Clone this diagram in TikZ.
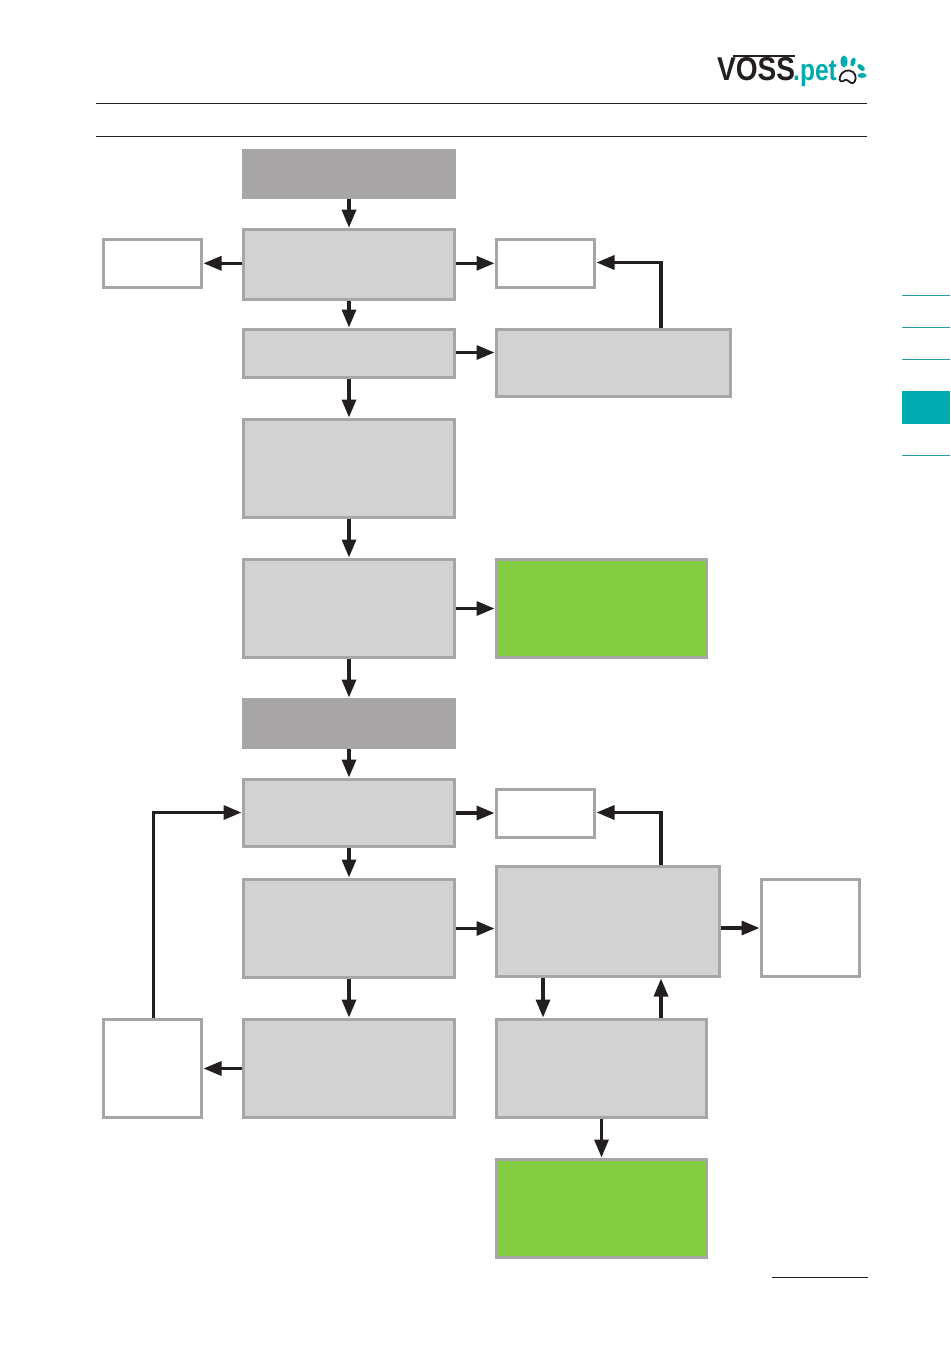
\documentclass[tikz,border=0pt]{standalone}
\usepackage{fontspec}
\setmainfont{Liberation Sans}
\usepackage{tikz}
\usetikzlibrary{arrows.meta}
\definecolor{boxgrey}{HTML}{D2D2D2}
\definecolor{edgegrey}{HTML}{A7A5A6}
\definecolor{leafgreen}{HTML}{82CD40}
\definecolor{tabteal}{HTML}{00ABB0}
\definecolor{inkblack}{HTML}{231F20}
\tikzset{
  headbox/.style={fill=edgegrey,minimum width=214pt,minimum height=50pt,inner sep=0pt,outer sep=0pt},
  stepbox/.style={draw=edgegrey,line width=3pt,fill=boxgrey,inner sep=0pt},
  notebox/.style={stepbox,fill=white},
  donebox/.style={stepbox,fill=leafgreen},
  flow/.style={draw=inkblack,line width=3.3pt,-{Triangle[length=18pt,width=14pt]},shorten >=.5pt},
}
\begin{document}
\begin{tikzpicture}[x=1pt,y=-1pt]
\useasboundingbox[fill=white](0,0) rectangle (950,1348);

% page furniture
\draw[inkblack,line width=1pt](96,103.5)--(867,103.5);\draw[inkblack,line width=1pt](96,136.5)--(867,136.5);
\draw[inkblack,line width=.8pt](772,1277)--(868,1277);
\foreach \y in {295.5,327.5,359.5,455.5} \draw[tabteal!70!gray,line width=.8pt](902,\y)--(950,\y);
\fill[tabteal](902,391) rectangle (950,424);

% logo
\node (voss) at (717,81)[anchor=base west,inner sep=0pt,text=inkblack,xscale=.85]{\fontsize{33}{33}\selectfont\bfseries VOSS};
\node (pet) at (793,81)[anchor=base west,inner sep=0pt,text=tabteal,xscale=.82]{\fontsize{30}{30}\selectfont\bfseries .pet};
\draw[inkblack,line width=2pt](733,56.5)--(795,56.5);
\fill[tabteal](844,61.5) ellipse (3.5pt and 6pt);
\fill[tabteal,rotate around={-15:(853,62)}](853,62) ellipse (2.5pt and 4.5pt);
\fill[tabteal,rotate around={50:(861,67.5)}](861,67.5) ellipse (2.5pt and 4.5pt);
\fill[tabteal](862,75.5) ellipse (4.5pt and 2.5pt);
\draw[inkblack,line width=1.8pt,line join=round](840,77) .. controls (842,70) and (849,69) .. (853,72) .. controls (857,75) and (856,82) .. (853,83) .. controls (849,84) and (849,79) .. (845,80) .. controls (842,83) and (838,81) .. (840,77) -- cycle;

% first part
\node[headbox] (headA) at (349,174){};
\node[stepbox,minimum width=210.5pt,minimum height=69.5pt] (scan) at (349,264.5){};
\node[notebox,minimum width=98pt,minimum height=47.5pt] (noteL) at (152.5,263.3){};
\node[notebox,minimum width=98pt,minimum height=47.5pt] (noteR) at (545.5,263.3){};
\node[stepbox,minimum width=210.5pt,minimum height=48pt] (check) at (349,353.5){};
\node[stepbox,minimum width=234pt,minimum height=67pt] (retry) at (613.5,363){};
\node[stepbox,minimum width=210.5pt,minimum height=98pt] (setup) at (349,468.5){};
\node[stepbox,minimum width=210.5pt,minimum height=98pt] (confirm) at (349,608.5){};
\node[donebox,minimum width=210pt,minimum height=98pt] (doneA) at (601.5,608.5){};

% second part
\node[headbox,minimum height=51pt] (headB) at (349,723.5){};
\node[stepbox,minimum width=210.5pt,minimum height=67pt] (start) at (349,813){};
\node[notebox,minimum width=98pt,minimum height=48pt] (noteT) at (545.5,813){};
\node[stepbox,minimum width=210.5pt,minimum height=98pt] (pair) at (349,928.5){};
\node[stepbox,minimum width=223pt,minimum height=110pt] (wait) at (608,921.5){};
\node[notebox,minimum width=98pt,minimum height=97pt] (noteF) at (810.5,928){};
\node[stepbox,minimum width=210.5pt,minimum height=98pt] (fail) at (349,1068.5){};
\node[notebox,minimum width=98pt,minimum height=98pt] (noteB) at (152.5,1068.5){};
\node[stepbox,minimum width=210pt,minimum height=98pt] (test) at (601.5,1068.5){};
\node[donebox,minimum width=210pt,minimum height=98pt] (doneB) at (601.5,1208.5){};

\coordinate (retryUp) at (661,328);\coordinate (waitUp) at (661,865);
\coordinate (waitDn) at (543,978);\coordinate (testUp) at (661,1018);
\coordinate (noteBUp) at (153.5,1018);\coordinate (retryIn) at (596,262.5);\coordinate (waitIn) at (596,812.5);
\coordinate (checkOut) at (456,352.5);\coordinate (startIn) at (242,812.5);

\draw[flow](headA)--(scan);\draw[flow](scan)--(check);\draw[flow](check)--(setup);
\draw[flow](setup)--(confirm);\draw[flow](confirm)--(headB);\draw[flow](headB)--(start);
\draw[flow](start)--(pair);\draw[flow](pair)--(fail);\draw[flow](test)--(doneB);
\draw[flow](noteL -| scan.west)--(noteL.east);\draw[flow](noteR -| scan.east)--(noteR.west);
\draw[flow](checkOut)--(checkOut -| retry.west);\draw[flow](retryUp)|-(retryIn);
\draw[flow](confirm.east)--(doneA.west);
\draw[flow](start.east)--(start -| noteT.west);\draw[flow](waitUp)|-(waitIn);
\draw[flow](pair.east)--(pair -| wait.west);\draw[flow](noteF -| wait.east)--(noteF.west);
\draw[flow](waitDn)--(waitDn |- test.north);\draw[flow](testUp)--(testUp |- wait.south);
\draw[flow](fail.west)--(noteB.east);\draw[flow](noteBUp)|-(startIn);
\end{tikzpicture}
\end{document}
